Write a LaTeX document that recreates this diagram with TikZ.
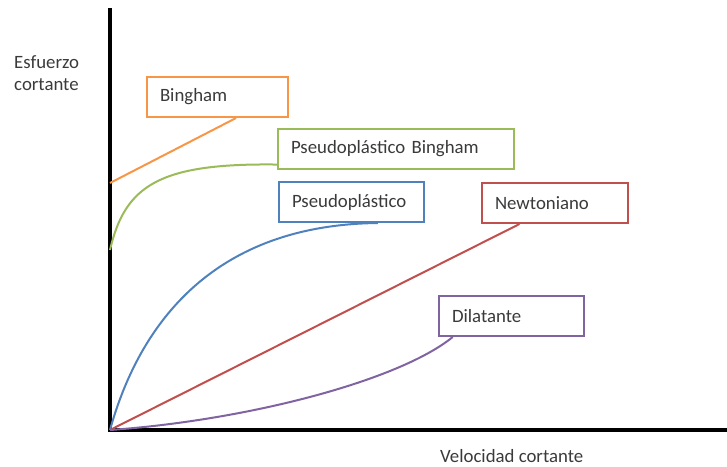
\documentclass[tikz,border=0pt]{standalone}
\usepackage{fontspec}
\setmainfont{Carlito}
\usetikzlibrary{calc}

\definecolor{naranja}{HTML}{F79646}
\definecolor{verde}{HTML}{9BBB59}
\definecolor{azul}{HTML}{4F81BD}
\definecolor{rojo}{HTML}{C0504D}
\definecolor{morado}{HTML}{8064A2}
\definecolor{texto}{HTML}{3A3A3A}

\begin{document}
\begin{tikzpicture}[x=1pt, y=-1pt,
    caja/.style={draw, line width=2pt, fill=white, anchor=north west, minimum height=40pt,
        inner xsep=13pt, align=left, text=texto, font=\fontsize{18.8}{22}\selectfont},
    curva/.style={line width=2pt},
    leyenda/.style={text=texto, inner sep=0pt, align=left, font=\fontsize{18.8}{22}\selectfont}]
    \useasboundingbox (0,0) rectangle (727,466);

    % Ejes
    \coordinate (origen) at (110,430);
    \coordinate (ytop) at (110,8);
    \coordinate (xfin) at (727,430);
    \draw[line width=3.5pt] (ytop) -- (origen) -- (xfin);
    \node[leyenda, anchor=north west] (yleyenda) at (14,55) {Esfuerzo\\cortante};
    \node[leyenda, anchor=base west] (xleyenda) at (440,462) {Velocidad cortante};

    % Cajas
    \node[caja, draw=naranja, text width=115pt] (bingham) at (146,76) {Bingham};
    \node[caja, draw=verde, text width=210pt] (pbingham) at (277,128) {Pseudoplástico Bingham};
    \node[caja, draw=azul, text width=119pt] (pseudo) at (278,181) {Pseudoplástico};
    \node[caja, draw=rojo, text width=120pt] (newton) at (481,182) {Newtoniano};
    \node[caja, draw=morado, text width=119pt] (dilat) at (438,295) {Dilatante};

    % Curvas
    \coordinate (yb) at (110,183);
    \coordinate (ypb) at (110,250);
    \draw[curva, naranja] (yb) -- ($(bingham.south west)!0.63!(bingham.south east)$);
    \draw[curva, verde] (ypb) .. controls (125,185) and (160,163) .. ($(pbingham.north west)!0.87!(pbingham.south west)$);
    \draw[curva, azul] (origen) .. controls (135,340) and (200,225) .. ($(pseudo.south west)!0.68!(pseudo.south east)$);
    \draw[curva, rojo] (origen) -- ($(newton.south west)!0.26!(newton.south east)$);
    \draw[curva, morado] (origen) .. controls (250,420) and (400,380) .. ($(dilat.south west)!0.1!(dilat.south east)$);
\end{tikzpicture}
\end{document}
